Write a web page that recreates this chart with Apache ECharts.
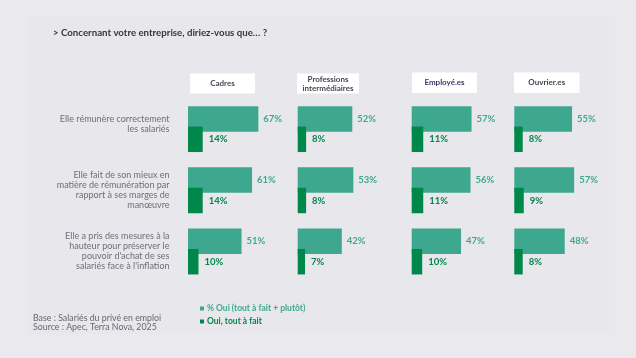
<!DOCTYPE html>
<html>
<head>
<meta charset="utf-8">
<script src="https://cdn.jsdelivr.net/npm/echarts@6/dist/echarts.min.js"></script>
<style>
html,body{margin:0;padding:0;background:#eae9ee;}
#chart{width:636px;height:358px;}
</style>
</head>
<body>
<div id="chart"></div>
<script>
// ---- data ----
const rowLabels = [
  "Elle rémunère correctement\nles salariés",
  "Elle fait de son mieux en\nmatière de rémunération par\nrapport à ses marges de\nmanœuvre",
  "Elle a pris des mesures à la\nhauteur pour préserver le\npouvoir d'achat de ses\nsalariés face à l'inflation"
];
const groups = ["Cadres", "Professions\nintermédiaires", "Employé.es", "Ouvrier.es"];
const seriesNames = ["% Oui (tout à fait + plutôt)", "Oui, tout à fait"];
const ouiTotal = [
  [67, 61, 51],
  [52, 53, 42],
  [57, 56, 47],
  [55, 57, 48]
];
const ouiToutAFait = [
  [14, 14, 10],
  [8, 8, 7],
  [11, 11, 10],
  [8, 9, 8]
];
const title = "> Concernant votre entreprise, diriez-vous que… ?";
const sourceLines = ["Base : Salariés du privé en emploi", "Source : Apec, Terra Nova, 2025"];

// ---- layout / style ----
const TEAL = "#3ea88f";
const GREEN = "#00874a";
const FONT = "Lato, 'Open Sans', sans-serif";
const gridLefts = [188, 297.7, 411.7, 514.3];
const headerBoxes = [
  {x: 190, y: 73.5, w: 65, h: 20},
  {x: 297, y: 73.5, w: 62, h: 20},
  {x: 412, y: 72.5, w: 65, h: 20.5},
  {x: 514, y: 72.5, w: 65.5, h: 20.5}
];
const headerColors = ["#4a4550", "#4a4550", "#3b3a66", "#4a4550"];

const grids = [], xAxes = [], yAxes = [], series = [];
groups.forEach((g, i) => {
  grids.push({left: gridLefts[i], top: 98.5, width: 105, height: 183.6, containLabel: false});
  xAxes.push({type: 'value', gridIndex: i, min: 0, max: 100, show: false});
  yAxes.push({
    type: 'category', gridIndex: i, data: rowLabels, inverse: true,
    axisLine: {show: false}, axisTick: {show: false}, splitLine: {show: false},
    axisLabel: i === 0 ? {
      show: true, margin: 18.5, fontFamily: FONT, fontSize: 9, lineHeight: 10,
      color: '#726d78', align: 'right',
      formatter: (v, idx) => idx === 0 ? v + '\n ' : v
    } : {show: false}
  });
  series.push({
    type: 'bar', name: seriesNames[0], xAxisIndex: i, yAxisIndex: i,
    data: ouiTotal[i], barWidth: 25.5, barGap: '-20%',
    itemStyle: {color: TEAL}, z: 2, silent: true,
    label: {show: true, position: 'right', distance: 5, formatter: '{c}%',
      color: TEAL, fontFamily: FONT, fontWeight: 'bold', fontSize: 9.5}
  });
  series.push({
    type: 'bar', name: seriesNames[1], xAxisIndex: i, yAxisIndex: i,
    data: ouiToutAFait[i], barWidth: 25.5, barGap: '-20%',
    itemStyle: {color: GREEN}, z: 3, silent: true,
    label: {show: true, position: 'right', distance: 6, formatter: '{c}%',
      color: GREEN, fontFamily: FONT, fontWeight: 'bold', fontSize: 9.5}
  });
});

const graphics = [
  {type: 'rect', left: 28, top: 17, shape: {width: 581, height: 317}, style: {fill: '#e8e7ec'}, z: -10, silent: true},
  {type: 'text', left: 53, top: 28, style: {text: title, fill: '#3a3540', font: "bold 9.7px " + FONT}},
  {type: 'text', left: 33, top: 313, style: {text: sourceLines.join('\n'), fill: '#6a6570', font: "8.8px " + FONT, lineHeight: 9.6}}
];
groups.forEach((g, i) => {
  const b = headerBoxes[i];
  graphics.push({type: 'rect', shape: {x: b.x, y: b.y, width: b.w, height: b.h}, style: {fill: '#ffffff'}, silent: true});
  graphics.push({type: 'text', x: b.x + b.w / 2, y: b.y + b.h / 2,
    style: {text: g, fill: headerColors[i], font: "bold 8px " + FONT, align: 'center', verticalAlign: 'middle', lineHeight: 9}});
});

const chart = echarts.init(document.getElementById('chart'), null, {renderer: 'canvas'});
chart.setOption({
  backgroundColor: '#eae9ee',
  animation: false,
  grid: grids, xAxis: xAxes, yAxis: yAxes, series: series,
  legend: {
    orient: 'vertical', left: 195, top: 299, itemWidth: 4, itemHeight: 4, itemGap: 4,
    icon: 'rect', selectedMode: false,
    textStyle: {fontFamily: FONT, fontWeight: 'bold', fontSize: 8.5, padding: [0, 0, 0, -2]},
    data: [
      {name: seriesNames[0], textStyle: {color: TEAL}},
      {name: seriesNames[1], textStyle: {color: GREEN}}
    ]
  },
  graphic: graphics
});
</script>
</body>
</html>
